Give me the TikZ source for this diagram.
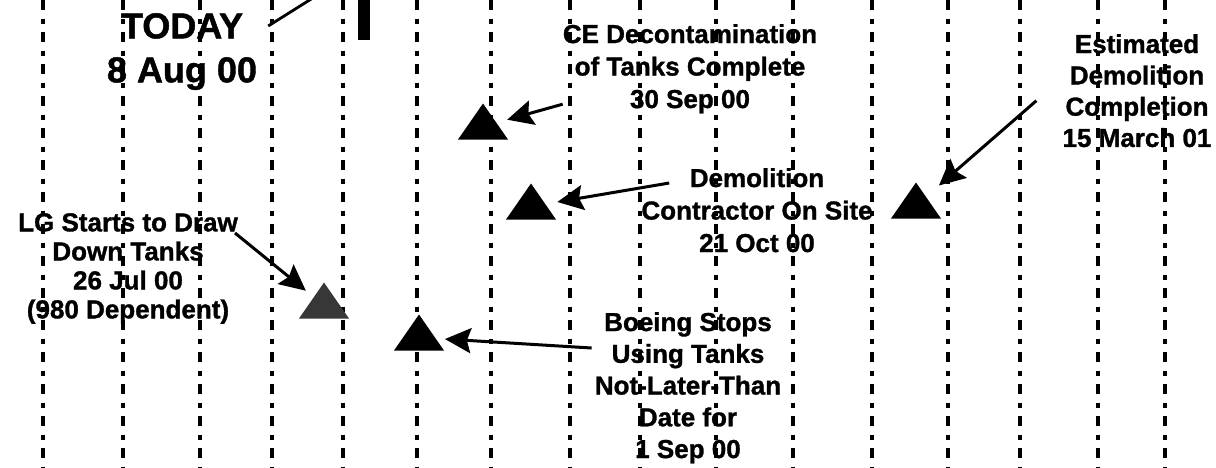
\documentclass[tikz,border=0pt]{standalone}
\usepackage{fontspec}
\setmainfont{Liberation Sans}[BoldFeatures={FakeBold=1.2}]
\usepackage{tikz}
\usetikzlibrary{arrows.meta,shapes.geometric}
\definecolor{darkgrey}{RGB}{55,55,55}

\begin{document}
\begin{tikzpicture}[x=1pt, y=-1pt,
    note/.style={font=\fontsize{26}{32}\selectfont\bfseries, align=center, inner sep=0pt, anchor=north},
    marker/.style={isosceles triangle, isosceles triangle stretches, shape border rotate=90,
      minimum width=50pt, minimum height=36pt, inner sep=0pt, fill=black, anchor=apex},
    pointer/.style={-{Stealth[length=26pt,width=25pt,inset=4pt]}, line width=3pt},
    gridline/.style={line width=3.2pt, dash pattern=on 10pt off 8.5pt on 5pt off 8.5pt}]
    \useasboundingbox (0,0) rectangle (1216,467);

    % time grid
    \foreach \x in {43,123,200,272,343,417,491,570,640,716,793,872,948,1020,1098,1165}
      \draw[gridline] (\x,0) -- (\x,467);

    \node[note, font=\fontsize{36}{44}\selectfont\bfseries] (today) at (182,13)
      {TODAY\\8 Aug 00};
    \node[fill=black, inner sep=0pt, minimum width=12pt, minimum height=40pt, anchor=north west] (bar) at (358,0) {};
    \coordinate (todayend) at (316,-4);

    \node[note, font=\fontsize{26}{32.5}\selectfont\bfseries] (decon) at (690,24)
      {CE Decontamination\\of Tanks Complete\\30 Sep 00};
    \node[note, font=\fontsize{26}{31.3}\selectfont\bfseries] (finish) at (1137,34)
      {Estimated\\Demolition\\Completion\\15 March 01};
    \node[note, font=\fontsize{26}{32.5}\selectfont\bfseries] (onsite) at (757,168)
      {Demolition\\Contractor On Site\\21 Oct 00};
    \node[note, font=\fontsize{26}{29}\selectfont\bfseries] (drawdown) at (128,213)
      {LG Starts to Draw\\Down Tanks\\26 Jul 00\\(980 Dependent)};
    \node[note, font=\fontsize{26}{31.75}\selectfont\bfseries] (boeing) at (688,312)
      {Boeing Stops\\Using Tanks\\Not-Later-Than\\Date for\\1 Sep 00};

    % milestones
    \node[marker] (tdecon) at (483,103) {};
    \node[marker] (tonsite) at (531,183) {};
    \node[marker] (tfinish) at (916,182) {};
    \node[marker, fill=darkgrey] (tdrawdown) at (324,282) {};
    \node[marker] (tboeing) at (419,314) {};

    \draw[line width=2.8pt] ([xshift=11pt,yshift=-13pt]today.north east) -- (todayend);
    \draw[pointer, shorten >=11pt] (decon) -- (tdecon);
    \draw[pointer, shorten >=12pt] ([xshift=28pt,yshift=-15pt]onsite.north west) -- (tonsite);
    \draw[pointer, shorten >=17pt] ([xshift=-26pt,yshift=-10pt]finish.west) -- (tfinish);
    \draw[pointer, shorten >=10pt] ([xshift=-3pt,yshift=-20pt]drawdown.north east) -- (tdrawdown);
    \draw[pointer, shorten >=9pt] ([xshift=-3pt,yshift=-36pt]boeing.north west) -- (tboeing);
  \end{tikzpicture}
\end{document}
